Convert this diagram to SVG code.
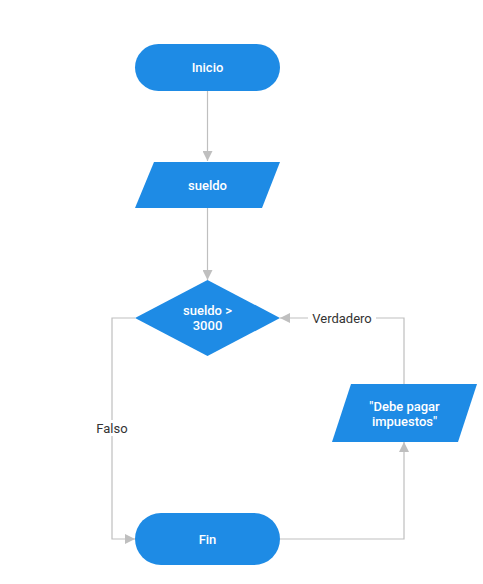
<svg xmlns="http://www.w3.org/2000/svg" width="483" height="584" viewBox="0 0 483 584">
<defs>
<style>
.shape{fill:#1e8be5;}
.t{fill:#ffffff;font-family:Roboto,"Liberation Sans",sans-serif;font-size:13px;font-weight:500;text-anchor:middle;}
.e{fill:none;stroke:#bfbfbf;stroke-width:1.2;}
.l{fill:#333333;font-family:Roboto,"Liberation Sans",sans-serif;font-size:13px;text-anchor:middle;}
.lb{fill:#ffffff;}
</style>
<marker id="ah" markerWidth="10" markerHeight="10" viewBox="0 0 10 10" refX="10" refY="5" orient="auto" markerUnits="userSpaceOnUse">
<path d="M0,0 L10,5 L0,10 z" fill="#bfbfbf"/>
</marker>
</defs>
<rect width="483" height="584" fill="#ffffff"/>
<g id="connectors">
<path class="e" d="M207.5,91 V161" marker-end="url(#ah)"/>
<path class="e" d="M207.5,208 V280" marker-end="url(#ah)"/>
<path class="e" d="M404,384 V318 H280" marker-end="url(#ah)"/>
<path class="e" d="M135,318 H112 V539 H135" marker-end="url(#ah)"/>
<path class="e" d="M280,539 H404 V442" marker-end="url(#ah)"/>
<rect class="lb" x="308" y="310" width="68" height="16"/>
<text class="l" x="342" y="322.5">Verdadero</text>
<rect class="lb" x="94" y="420" width="36" height="16"/>
<text class="l" x="112" y="432.5">Falso</text>
</g>
<g id="inicio">
<rect class="shape" x="135" y="44" width="145" height="47" rx="23.5"/>
<text class="t" x="207.5" y="72">Inicio</text>
</g>
<g id="sueldo">
<polygon class="shape" points="154,162 280,162 262,208 135,208"/>
<text class="t" x="207.5" y="189.5">sueldo</text>
</g>
<g id="decision">
<polygon class="shape" points="207.5,280 280,318 207.5,356 135,318"/>
<text class="t" x="207.5" y="315">sueldo &gt;</text>
<text class="t" x="207.5" y="330">3000</text>
</g>
<g id="mensaje">
<polygon class="shape" points="351,384 477,384 458,442 332,442"/>
<text class="t" x="404.5" y="411">"Debe pagar</text>
<text class="t" x="404.5" y="426">impuestos"</text>
</g>
<g id="fin">
<rect class="shape" x="135" y="513" width="145" height="52" rx="26"/>
<text class="t" x="207.5" y="543.5">Fin</text>
</g>
</svg>
